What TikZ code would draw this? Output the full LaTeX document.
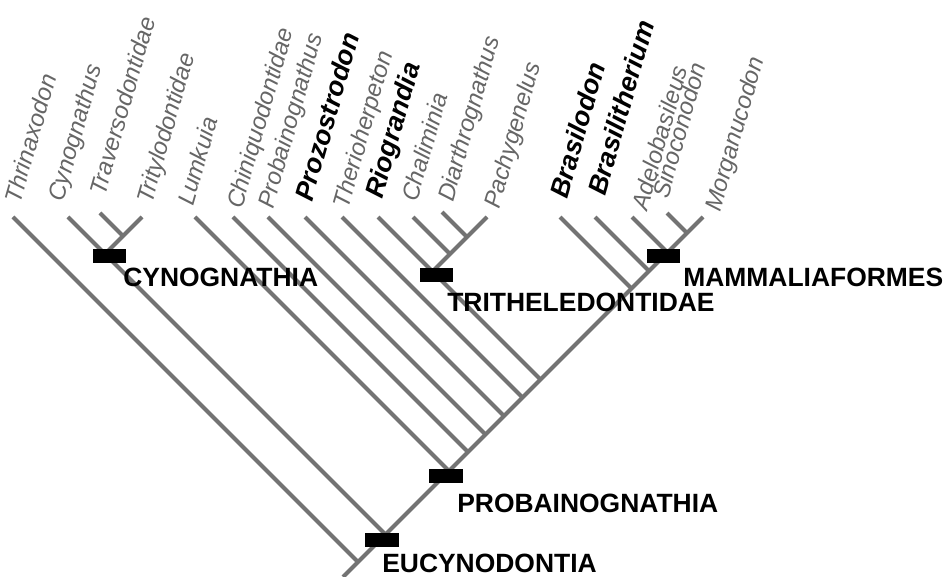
\documentclass[tikz,border=0pt]{standalone}
\usepackage{fontspec}
\setmainfont{Liberation Sans}
\newfontfamily\taxonfont{Liberation Sans}

\definecolor{grisbranche}{gray}{0.45}
\definecolor{gristaxon}{gray}{0.4}

\tikzset{
  branche/.style={line width=2.85pt, grisbranche},
  taxon/.style={rotate=74, anchor=base west, inner sep=0pt, text=gristaxon,
                font=\taxonfont\itshape\fontsize{17pt}{18pt}\selectfont},
  taxongras/.style={taxon, text=black,
                font=\taxonfont\bfseries\itshape\fontsize{19pt}{20pt}\selectfont},
  clade/.style={anchor=base west, inner sep=0pt,
                font=\bfseries\fontsize{18.8pt}{20pt}\selectfont},
  synapo/.style={fill=black, minimum width=0.825cm, minimum height=0.35cm, inner sep=0pt}
}

\begin{document}
\begin{tikzpicture}[x=0.025cm, y=-0.025cm]

  \useasboundingbox (0,0) rectangle (950,577);

  % Extrémités des branches.
  \coordinate (thr) at (13,217);
  \coordinate (cyn) at (68,217);
  \coordinate (tra) at (100,213);
  \coordinate (tri) at (142,217);
  \coordinate (lum) at (195,217);
  \coordinate (chi) at (233,217);
  \coordinate (pro) at (268,217);
  \coordinate (prz) at (305,217);
  \coordinate (the) at (342,217);
  \coordinate (rio) at (378,217);
  \coordinate (cha) at (413,217);
  \coordinate (dia) at (442,212);
  \coordinate (pac) at (487,217);
  \coordinate (bod) at (560,217);
  \coordinate (bth) at (595,217);
  \coordinate (ade) at (632,217);
  \coordinate (sin) at (667,213);
  \coordinate (mor) at (703,217);

  % Noeuds sur le tronc.
  \coordinate (racine) at (343,577);
  \coordinate (nThr)   at (358,562);
  \coordinate (nEucy)  at (385.5,534.5);
  \coordinate (nProb)  at (449,471);
  \coordinate (nChi)   at (468,452);
  \coordinate (nPro)   at (485.5,434.5);
  \coordinate (nPrz)   at (504,416);
  \coordinate (nThe)   at (522.5,397.5);
  \coordinate (nTrith) at (540.5,379.5);
  \coordinate (nBod)   at (631.5,288.5);
  \coordinate (nBth)   at (649,271);
  \coordinate (nMamm)  at (667.5,252.5);
  \coordinate (nSin)   at (687,233);

  % Noeuds internes des deux sous-clades.
  \coordinate (nCyno) at (105,254);
  \coordinate (nTra)  at (123,236);
  \coordinate (nRio)  at (432.5,271.5);
  \coordinate (nCha)  at (450,254);
  \coordinate (nDia)  at (467,237);

  % Le tronc, puis les branches.
  \draw[branche] (racine) -- (mor);
  \draw[branche] (thr) -- (nThr);
  \draw[branche] (cyn) -- (nEucy);
  \draw[branche] (tri) -- (nCyno);
  \draw[branche] (tra) -- (nTra);
  \draw[branche] (lum) -- (nProb);
  \draw[branche] (chi) -- (nChi);
  \draw[branche] (pro) -- (nPro);
  \draw[branche] (prz) -- (nPrz);
  \draw[branche] (the) -- (nThe);
  \draw[branche] (rio) -- (nTrith);
  \draw[branche] (pac) -- (nRio);
  \draw[branche] (cha) -- (nCha);
  \draw[branche] (dia) -- (nDia);
  \draw[branche] (bod) -- (nBod);
  \draw[branche] (bth) -- (nBth);
  \draw[branche] (ade) -- (nMamm);
  \draw[branche] (sin) -- (nSin);

  % Synapomorphies : barres noires.
  \node[synapo] (bCyno)  at (109.5,256) {};
  \node[synapo] (bEucy)  at (382,540) {};
  \node[synapo] (bProb)  at (446,476) {};
  \node[synapo] (bTrith) at (436.5,275) {};
  \node[synapo] (bMamm)  at (663.5,256) {};

  % Noms des clades.
  \node[clade] (lCyno)  at (123,287) {CYNOGNATHIA};
  \node[clade] (lTrith) at (447,312) {TRITHELEDONTIDAE};
  \node[clade] (lMamm)  at (683,287) {MAMMALIAFORMES};
  \node[clade] (lProb)  at (457,512) {PROBAINOGNATHIA};
  \node[clade] (lEucy)  at (382,572) {EUCYNODONTIA};

  % Noms des taxons terminaux.
  \node[taxon]     (tThr) at (20,205)  {Thrinaxodon};
  \node[taxon]     (tCyn) at (63,203)  {Cynognathus};
  \node[taxon]     (tTra) at (105,197) {Traversodontidae};
  \node[taxon]     (tTri) at (152,205) {Tritylodontidae};
  \node[taxon]     (tLum) at (193,207) {Lumkuia};
  \node[taxon]     (tChi) at (242,210) {Chiniquodontidae};
  \node[taxon]     (tPro) at (273,210) {Probainognathus};
  \node[taxongras] (tPrz) at (312,203) {Prozostrodon};
  \node[taxon]     (tThe) at (348,210) {Therioherpeton};
  \node[taxongras] (tRio) at (382,200) {Riograndia};
  \node[taxon]     (tCha) at (417,203) {Chaliminia};
  \node[taxon]     (tDia) at (453,203) {Diarthrognathus};
  \node[taxon]     (tPac) at (499,210) {Pachygenelus};
  \node[taxongras] (tBod) at (567,200) {Brasilodon};
  \node[taxongras] (tBth) at (605,197) {Brasilitherium};
  \node[taxon]     (tAde) at (647,212) {Adelobasileus};
  \node[taxon]     (tSin) at (668,200) {Sinoconodon};
  \node[taxon]     (tMor) at (720,213) {Morganucodon};

\end{tikzpicture}
\end{document}
